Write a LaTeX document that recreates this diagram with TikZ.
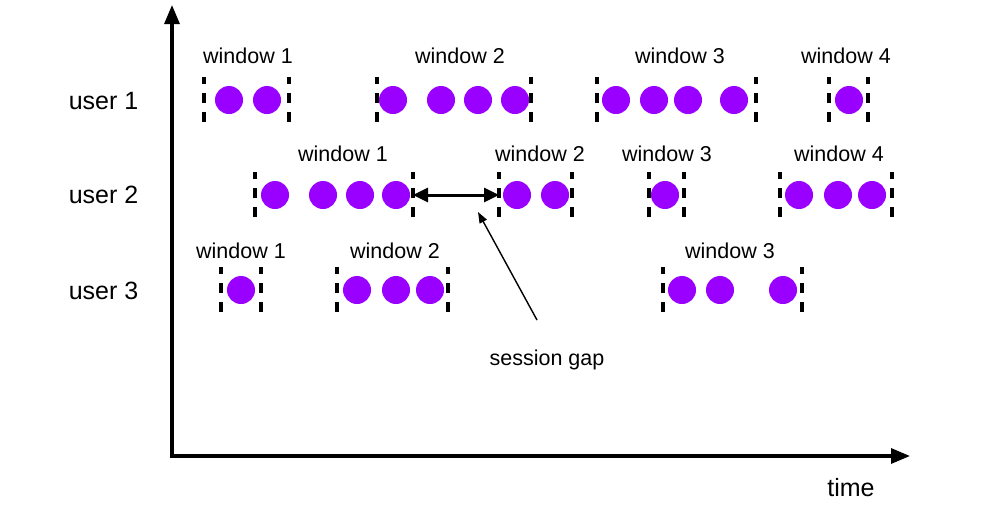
\documentclass[tikz,border=0pt]{standalone}
\usepackage{fontspec}
\setmainfont{Liberation Sans}
\usetikzlibrary{arrows.meta}
\definecolor{dotpurple}{HTML}{9900FF}
\tikzset{
  evdot/.style={circle,fill=dotpurple,draw=none,minimum size=28pt,inner sep=0pt},
  wbar/.style={line width=3.3pt,dash pattern=on 10pt off 9pt},
  wlabel/.style={anchor=base,font=\fontsize{21.5}{25}\selectfont,inner sep=0pt},
  ulabel/.style={anchor=base,font=\fontsize{25}{30}\selectfont,inner sep=0pt},
  axis/.style={line width=3.2pt,-{Triangle[length=19pt,width=15pt]}},
}
% #1 name, #2 y, #3 left x, #4 right x, #5 dot xs, #6 label x, #7 label baseline y, #8 text
\newcommand\mywin[8]{%
  \coordinate (#1L) at (#3,#2);
  \coordinate (#1R) at (#4,#2);
  \draw[wbar] ([yshift=-22pt]#1L) -- ([yshift=23pt]#1L);
  \draw[wbar] ([yshift=-22pt]#1R) -- ([yshift=23pt]#1R);
  \foreach \dx [count=\k] in {#5} {\node[evdot] (#1d\k) at (\dx,#2) {};}
  \node[wlabel] (#1t) at (#6,#7) {#8};
}
\begin{document}
\begin{tikzpicture}[x=1pt,y=-1pt]
\useasboundingbox (0,0) rectangle (994,507);
% axes
\coordinate (O) at (172,456);
\coordinate (Ytop) at (172,5);
\coordinate (Xend) at (910,456);
\draw[axis] (172,458) -- (Ytop);
\draw[axis] (170.4,456) -- (Xend);
\node[ulabel] (time) at (851,496) {time};
% user labels
\node[ulabel] (u1) at (103.5,109) {user 1};
\node[ulabel] (u2) at (103.5,203) {user 2};
\node[ulabel] (u3) at (103.5,299) {user 3};
% user 1
\mywin{aa}{100}{204}{289}{229,267}{248}{63}{window 1}
\mywin{ab}{100}{377}{531}{393,441,478,515}{460}{63}{window 2}
\mywin{ac}{100}{597}{756}{616,654,688,734}{680}{63}{window 3}
\mywin{ad}{100}{829}{868}{849}{846}{63}{window 4}
% user 2
\mywin{ba}{195}{255}{413}{275,323,360,396}{343}{161}{window 1}
\mywin{bb}{195}{499}{572}{517,555}{540}{161}{window 2}
\mywin{bc}{195}{649}{684}{665}{667}{161}{window 3}
\mywin{bd}{195}{780}{892}{799,838,872}{839}{161}{window 4}
% user 3
\mywin{ca}{290}{221}{261}{241}{241}{258}{window 1}
\mywin{cb}{290}{337}{448}{357,396,430}{395}{258}{window 2}
\mywin{cc}{290}{663}{802}{682,720,783}{730}{258}{window 3}
% session gap
\draw[line width=3pt,{Triangle[length=15pt,width=14pt]}-{Triangle[length=15pt,width=14pt]}] (baR) -- (bbL);
\node[wlabel] (gap) at (547,365) {session gap};
\coordinate (gapTail) at (537,320);
\coordinate (gapTip) at (478,212);
\draw[line width=1.4pt,-{Triangle[length=11pt,width=8pt]}] (gapTail) -- (gapTip);
\end{tikzpicture}
\end{document}
